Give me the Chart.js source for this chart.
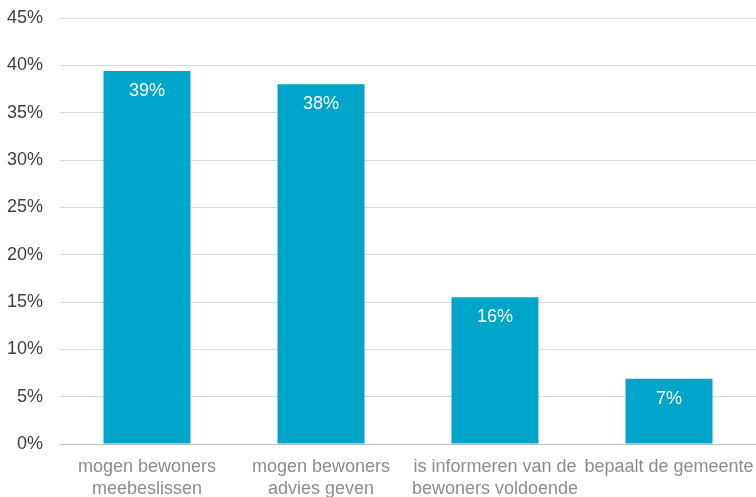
<!DOCTYPE html>
<html>
<head>
<meta charset="utf-8">
<script src="https://cdn.jsdelivr.net/npm/chart.js@4/dist/chart.umd.min.js"></script>
<style>
  html, body { margin: 0; padding: 0; background: #fff; }
  #wrap { width: 756px; height: 497px; position: relative; }
</style>
</head>
<body>
<div id="wrap"><canvas id="chart"></canvas></div>
<script>
const CATEGORIEEN = [
  ['mogen bewoners', 'meebeslissen'],
  ['mogen bewoners', 'advies geven'],
  ['is informeren van de', 'bewoners voldoende'],
  'bepaalt de gemeente'
];
const WAARDEN = [39.4, 38.0, 15.5, 6.9];
const Y_MAX = 45;
const Y_STAP = 5;

const KLEUR_BALK = '#00a6c9';
const FONT = 'Liberation Sans, Arial, sans-serif';

// labels wit in de balk, vlak onder de bovenkant
const balkLabels = {
  id: 'balkLabels',
  afterDatasetsDraw(chart) {
    const ctx = chart.ctx;
    const meta = chart.getDatasetMeta(0);
    ctx.save();
    ctx.fillStyle = '#ffffff';
    ctx.font = '18px ' + FONT;
    ctx.textAlign = 'center';
    ctx.textBaseline = 'middle';
    meta.data.forEach((bar, i) => {
      ctx.fillText(Math.round(WAARDEN[i]) + '%', bar.x, bar.y + 20);
    });
    ctx.restore();
  }
};

new Chart(document.getElementById('chart'), {
  type: 'bar',
  data: {
    labels: CATEGORIEEN,
    datasets: [{
      data: WAARDEN,
      backgroundColor: KLEUR_BALK,
      barPercentage: 0.5,
      categoryPercentage: 1.0
    }]
  },
  options: {
    responsive: true,
    maintainAspectRatio: false,
    animation: false,
    layout: { padding: { left: 7, top: 18, right: 0, bottom: 0 } },
    plugins: { legend: { display: false }, tooltip: { enabled: false } },
    scales: {
      x: {
        grid: { display: false, drawTicks: false },
        border: { color: '#bfbfbf', width: 1 },
        ticks: {
          color: '#8c8c8c',
          font: { family: FONT, size: 18, lineHeight: 1.22 },
          padding: 12,
          maxRotation: 0,
          autoSkip: false
        },
        afterFit(scale) {
          scale.height = 53;
          scale.paddingLeft = 0;
          scale.paddingRight = 0;
        }
      },
      y: {
        min: 0,
        max: Y_MAX,
        grid: {
          color: c => c.tick.value === 0 ? '#bfbfbf' : '#d9d9d9',
          drawTicks: false
        },
        border: { display: false },
        ticks: {
          stepSize: Y_STAP,
          color: '#404040',
          font: { family: FONT, size: 18 },
          padding: 17,
          callback: v => v + '%'
        },
        afterFit(scale) {
          scale.width = 53;
          scale.paddingTop = 0;
          scale.paddingBottom = 0;
        }
      }
    }
  },
  plugins: [balkLabels]
});
</script>
</body>
</html>
